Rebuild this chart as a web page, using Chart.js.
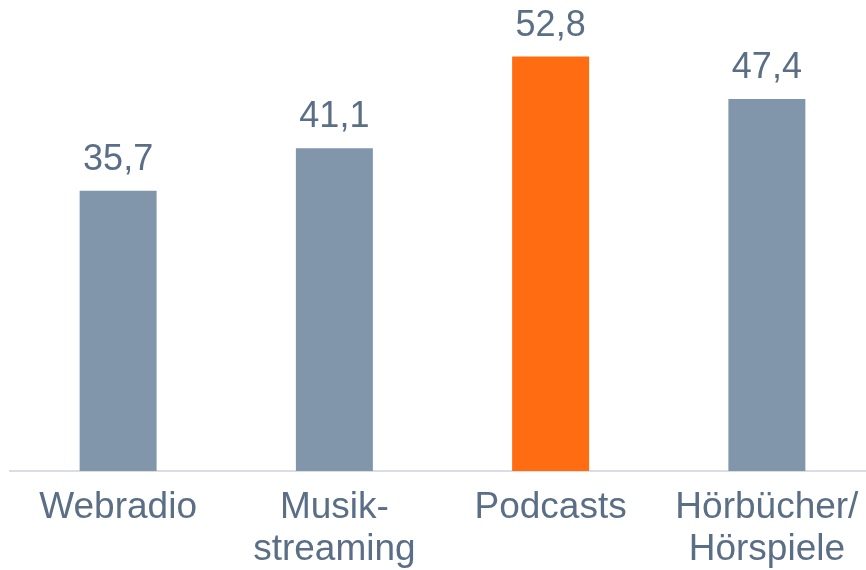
<!DOCTYPE html>
<html>
<head>
<meta charset="utf-8">
<script src="https://cdn.jsdelivr.net/npm/chart.js@4/dist/chart.umd.min.js"></script>
<style>
  html, body { margin: 0; padding: 0; background: #fff; overflow: hidden; }
  canvas { display: block; }
</style>
</head>
<body>
<canvas id="chart" width="875" height="570"></canvas>
<script>
// data
const categories = [["Webradio"], ["Musik-", "streaming"], ["Podcasts"], ["Hörbücher/", "Hörspiele"]];
const values = [35.7, 41.1, 52.8, 47.4];
const barColors = ["#8196ab", "#8196ab", "#ff6c11", "#8196ab"];

const textColor = "#5a6e86";

// draws the value above each bar, German decimal comma
const valueLabels = {
  id: "valueLabels",
  afterDatasetsDraw(chart) {
    const ctx = chart.ctx;
    const meta = chart.getDatasetMeta(0);
    ctx.save();
    ctx.font = "36px 'Liberation Sans', Arial, sans-serif";
    ctx.fillStyle = textColor;
    ctx.textAlign = "center";
    ctx.textBaseline = "alphabetic";
    meta.data.forEach((bar, i) => {
      ctx.fillText(values[i].toFixed(1).replace(".", ","), bar.x, bar.y - 21);
    });
    ctx.restore();
  }
};

new Chart(document.getElementById("chart"), {
  type: "bar",
  data: {
    labels: categories,
    datasets: [{
      data: values,
      backgroundColor: barColors,
      barPercentage: 0.356,
      categoryPercentage: 1
    }]
  },
  options: {
    responsive: false,
    animation: false,
    layout: { padding: { left: 10, right: 0, top: 0, bottom: -17 } },
    plugins: {
      legend: { display: false },
      tooltip: { enabled: false }
    },
    scales: {
      x: {
        grid: { display: false, drawTicks: false },
        border: { display: true, color: "#d9dee5", width: 2 },
        ticks: {
          color: textColor,
          padding: 16,
          maxRotation: 0,
          autoSkip: false,
          font: { family: "'Liberation Sans', Arial, sans-serif", size: 37, lineHeight: 1.135 }
        }
      },
      y: {
        display: false,
        min: 0,
        max: 60
      }
    }
  },
  plugins: [valueLabels]
});
</script>
</body>
</html>
